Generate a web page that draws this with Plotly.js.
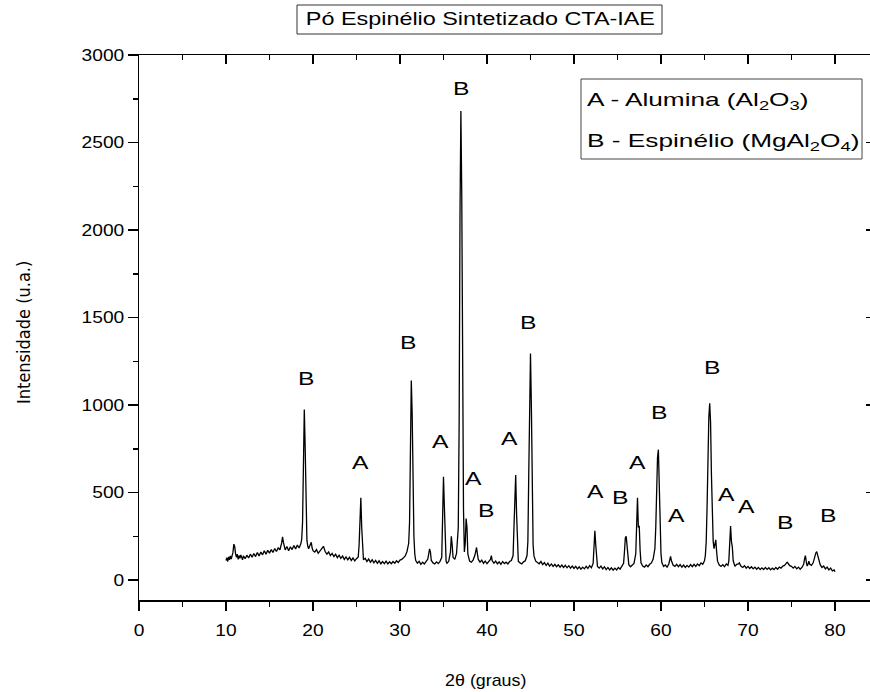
<!DOCTYPE html>
<html>
<head>
<meta charset="utf-8">
<script src="https://cdn.plot.ly/plotly-3.0.1.min.js"></script>
<style>
html,body{margin:0;padding:0;overflow:hidden;background:#fff;}
#plot{width:880px;height:692px;}
</style>
</head>
<body>
<div id="plot"></div>
<script>
// ---- XRD pattern, [2theta, intensity] ----
const seg10to20 = [
 [10.0,112],[10.1,128],[10.2,106],[10.3,132],[10.4,116],[10.5,138],[10.6,120],[10.7,142],[10.8,158],[10.9,205],
 [11.0,192],[11.1,150],[11.2,130],[11.3,148],[11.4,118],[11.5,140],[11.6,124],[11.7,144],[11.8,128],[11.9,116],
 [12.0,138],[12.2,122],[12.4,142],[12.6,126],[12.8,148],[13.0,130],[13.2,152],[13.4,134],[13.6,157],[13.8,138],
 [14.0,160],[14.2,144],[14.4,167],[14.6,148],[14.8,170],[15.0,154],[15.2,174],[15.4,158],[15.6,180],[15.8,163],
 [16.0,184],[16.2,173],[16.4,212],[16.5,247],[16.6,215],[16.7,188],[16.8,172],[17.0,192],[17.2,168],[17.4,190],
 [17.6,174],[17.8,197],[18.0,178],[18.2,200],[18.4,183],[18.6,207],[18.7,232],[18.8,330],[18.9,700],[19.0,975],
 [19.1,760],[19.2,380],[19.3,228],[19.4,193],[19.5,178],[19.6,192],[19.7,202],[19.8,216],[19.9,183],[20.0,168]
];
const seg20to30 = [
 [20.2,160],[20.4,174],[20.6,153],[20.8,167],[21.0,176],[21.2,193],[21.4,163],[21.6,148],[21.8,160],[22.0,140],
 [22.2,152],[22.4,134],[22.6,147],[22.8,128],[23.0,142],[23.2,124],[23.4,137],[23.6,118],[23.8,132],[24.0,116],
 [24.2,130],[24.4,112],[24.6,126],[24.8,110],[25.0,122],[25.2,132],[25.3,200],[25.4,400],[25.5,470],[25.6,300],
 [25.7,150],[25.8,116],[26.0,124],[26.2,106],[26.4,120],[26.6,102],[26.8,116],[27.0,98],[27.2,112],[27.4,96],
 [27.6,110],[27.8,93],[28.0,106],[28.2,94],[28.4,108],[28.6,92],[28.8,104],[29.0,93],[29.2,106],[29.4,96],
 [29.6,110],[29.8,100],[30.0,114]
];
const seg30to40 = [
 [30.2,118],[30.4,127],[30.6,138],[30.8,162],[31.0,210],[31.1,330],[31.2,700],[31.3,1140],[31.4,950],[31.5,500],
 [31.6,250],[31.7,150],[31.8,113],[32.0,96],[32.2,107],[32.4,90],[32.6,102],[32.8,92],[33.0,104],[33.2,120],
 [33.4,178],[33.5,160],[33.6,112],[33.8,98],[34.0,92],[34.2,104],[34.4,94],[34.6,107],[34.8,130],[34.9,350],
 [35.0,590],[35.1,420],[35.2,150],[35.3,108],[35.4,96],[35.6,107],[35.8,160],[35.9,250],[36.0,200],[36.1,130],
 [36.3,118],[36.5,152],[36.7,300],[36.8,900],[36.9,2100],[37.0,2680],[37.1,2200],[37.2,1100],[37.3,400],[37.4,160],
 [37.5,210],[37.6,352],[37.7,300],[37.8,150],[38.0,108],[38.2,102],[38.4,114],[38.6,140],[38.7,180],[38.8,186],
 [38.9,150],[39.0,118],[39.2,102],[39.4,114],[39.6,96],[39.8,108],[40.0,93]
];
const seg40to50 = [
 [40.2,106],[40.4,118],[40.5,140],[40.6,110],[40.8,96],[41.0,108],[41.2,92],[41.4,104],[41.6,90],[41.8,106],
 [42.0,94],[42.2,102],[42.4,92],[42.6,106],[42.8,112],[43.0,140],[43.1,300],[43.2,540],[43.3,600],[43.4,380],
 [43.5,160],[43.6,108],[43.8,98],[44.0,92],[44.2,104],[44.4,110],[44.6,140],[44.7,220],[44.8,600],[44.9,1100],
 [45.0,1295],[45.1,1000],[45.2,450],[45.3,200],[45.4,138],[45.6,108],[45.8,100],[46.0,93],[46.2,106],[46.4,88],
 [46.6,100],[46.8,84],[47.0,97],[47.2,80],[47.4,92],[47.6,78],[47.8,90],[48.0,76],[48.2,87],[48.4,74],
 [48.6,86],[48.8,72],[49.0,84],[49.2,70],[49.4,82],[49.6,68],[49.8,80],[50.0,66]
];
const seg50to60 = [
 [50.2,78],[50.4,64],[50.6,76],[50.8,62],[51.0,74],[51.2,64],[51.4,78],[51.6,66],[51.8,82],[52.0,70],
 [52.2,95],[52.3,220],[52.4,282],[52.5,200],[52.6,110],[52.7,78],[52.9,68],[53.1,80],[53.3,64],[53.5,76],
 [53.7,60],[53.9,72],[54.1,58],[54.3,70],[54.5,56],[54.7,68],[54.9,58],[55.1,72],[55.3,62],[55.5,77],
 [55.7,95],[55.8,160],[55.9,240],[56.0,250],[56.1,180],[56.2,110],[56.3,88],[56.5,76],[56.7,86],[56.9,95],
 [57.1,150],[57.2,330],[57.3,470],[57.4,300],[57.5,310],[57.6,170],[57.7,98],[57.9,80],[58.1,74],[58.3,86],
 [58.5,76],[58.7,90],[58.9,98],[59.1,120],[59.3,180],[59.4,300],[59.5,520],[59.6,700],[59.7,745],[59.8,560],
 [59.9,300],[60.0,150]
];
const seg60to70 = [
 [60.1,100],[60.3,78],[60.5,86],[60.7,74],[60.9,92],[61.0,120],[61.1,135],[61.2,110],[61.4,84],[61.6,78],
 [61.8,90],[62.0,76],[62.2,88],[62.4,74],[62.6,86],[62.8,72],[63.0,84],[63.2,74],[63.4,88],[63.6,76],
 [63.8,90],[64.0,78],[64.2,92],[64.4,82],[64.6,98],[64.8,90],[65.0,110],[65.1,140],[65.2,220],[65.3,420],
 [65.4,700],[65.5,930],[65.6,1010],[65.7,900],[65.8,600],[65.9,350],[66.0,220],[66.1,180],[66.2,200],[66.3,230],
 [66.4,160],[66.5,108],[66.7,86],[66.9,78],[67.1,88],[67.3,76],[67.5,92],[67.7,84],[67.8,110],[67.9,220],
 [68.0,308],[68.1,220],[68.2,190],[68.3,110],[68.5,78],[68.7,90],[68.9,92],[69.0,98],[69.2,78],[69.4,72],
 [69.6,82],[69.8,68],[70.0,78]
];
const seg70to80 = [
 [70.2,66],[70.4,76],[70.6,64],[70.8,74],[71.0,62],[71.2,72],[71.4,60],[71.6,70],[71.8,60],[72.0,72],
 [72.2,61],[72.4,70],[72.6,58],[72.8,68],[73.0,60],[73.2,72],[73.4,62],[73.6,74],[73.8,68],[74.0,80],
 [74.2,84],[74.4,96],[74.5,102],[74.6,96],[74.8,82],[75.0,78],[75.2,68],[75.4,78],[75.6,64],[75.8,74],
 [76.0,62],[76.2,72],[76.4,90],[76.5,120],[76.6,140],[76.7,105],[76.8,80],[76.9,90],[77.0,108],[77.1,90],
 [77.3,84],[77.5,100],[77.7,140],[77.8,155],[77.9,162],[78.0,145],[78.1,120],[78.3,88],[78.5,72],[78.7,80],
 [78.9,64],[79.1,74],[79.3,58],[79.5,68],[79.7,52],[79.9,58],[80.0,47]
];

// Phase labels above peaks: letter, 2theta, intensity of label centre
const peakLetters = ["B","A","B","A","B","A","B","A","B","A","B","A","B","A","B","A","A","B","B"];
const peakLabelX  = [19.3,25.5,31.0,34.6,37.1,38.5,40.0,42.6,44.8,52.5,55.4,57.25,59.8,61.8,65.9,67.55,69.85,74.35,79.25];
const peakLabelY  = [1154,674,1360,790,2811,581,396,806,1474,505,470,670,960,371,1217,490,419,330,366];

const xTickVals = [0,10,20,30,40,50,60,70,80];
const yTickVals = [0,500,1000,1500,2000,2500,3000];

const chartTitle = "Pó Espinélio Sintetizado CTA-IAE";
const xTitle = "2θ (graus)";
const yTitle = "Intensidade (u.a.)";
const legendLines = ["A - Alumina (Al<sub>2</sub>O<sub>3</sub>)", "B - Espinélio (MgAl<sub>2</sub>O<sub>4</sub>)"];

// ---- build ----
const pattern = [].concat(seg10to20, seg20to30, seg30to40, seg40to50, seg50to60, seg60to70, seg70to80);
const tt = pattern.map(p => p[0]);
const inten = pattern.map(p => p[1]);

const XR = [0, 84.6];
const YR = [-114, 3000];
const FONT = "Liberation Sans, Arial, sans-serif";

// plot area in pixels: left 139, right 875, top 55, bottom 600
const L = 139, R = 875, T = 55, B = 600;
const px = x => (x - L) / (R - L);
const py = y => (B - y) / (B - T);

const traces = [
  {x: tt, y: inten, type: "scatter", mode: "lines",
   line: {color: "#000", width: 1.3}, hoverinfo: "skip", showlegend: false},
  {x: [40], y: [1000], xaxis: "x2", yaxis: "y2", type: "scatter", mode: "markers",
   marker: {opacity: 0}, hoverinfo: "skip", showlegend: false}
];

const ann = [];
const annWidth = [];   // horizontal stretch factor of each annotation's text
const annOrigin = [];  // stretch about "left" edge or "center"
peakLetters.forEach((t, i) => {
  ann.push({text: t, x: peakLabelX[i], y: peakLabelY[i], xref: "x", yref: "y",
    xanchor: "center", yanchor: "middle",
    showarrow: false, font: {family: FONT, size: 19, color: "#000"}});
  annWidth.push(1.3); annOrigin.push("center");
});
ann.push({text: chartTitle, xref: "paper", yref: "paper", x: px(480), y: py(19),
  xanchor: "center", yanchor: "middle",
  showarrow: false, font: {family: FONT, size: 18, color: "#000"}});
annWidth.push(1.3); annOrigin.push("center");
ann.push({text: yTitle, xref: "paper", yref: "paper", x: px(24), y: py(333), textangle: -90,
  xanchor: "center", yanchor: "middle",
  showarrow: false, font: {family: "Liberation Sans Narrow, DejaVu Sans Condensed, Arial Narrow, sans-serif", size: 18, color: "#000"}});
annWidth.push(1); annOrigin.push("center");
ann.push({text: xTitle, xref: "paper", yref: "paper", x: px(485), y: py(680),
  xanchor: "center", yanchor: "middle",
  showarrow: false, font: {family: FONT, size: 17, color: "#000"}});
annWidth.push(1.05); annOrigin.push("center");
ann.push({text: legendLines[0], xref: "paper", yref: "paper", x: px(585), y: py(101), xanchor: "left", yanchor: "middle",
  showarrow: false, font: {family: FONT, size: 19, color: "#000"}});
annWidth.push(1.38); annOrigin.push("left");
ann.push({text: legendLines[1], xref: "paper", yref: "paper", x: px(585), y: py(142), xanchor: "left", yanchor: "middle",
  showarrow: false, font: {family: FONT, size: 19, color: "#000"}});
annWidth.push(1.38); annOrigin.push("left");

const shapes = [
  {type: "rect", xref: "paper", yref: "paper", x0: px(581), x1: px(862), y0: py(159), y1: py(79),
   line: {color: "#444", width: 1}},
  {type: "rect", xref: "paper", yref: "paper", x0: px(297), x1: px(662), y0: py(34), y1: py(5),
   line: {color: "#333", width: 1}}
];

const axBase = {
  showgrid: false, zeroline: false, showline: true, linecolor: "#000", linewidth: 1.5,
  tickcolor: "#000", tickwidth: 1.5, tickfont: {family: FONT, size: 16, color: "#000"}
};

const layout = {
  width: 880, height: 692,
  margin: {l: L, r: 880 - R, t: T, b: 692 - B},
  paper_bgcolor: "#fff", plot_bgcolor: "#fff",
  showlegend: false,
  xaxis: Object.assign({}, axBase, {range: XR, tickmode: "array", tickvals: xTickVals,
    ticks: "outside", ticklen: 9, ticklabelstandoff: 6,
    minor: {dtick: 5, tick0: 0, ticks: "outside", ticklen: 5, tickwidth: 1.5, tickcolor: "#000"}}),
  yaxis: Object.assign({}, axBase, {range: YR, tickmode: "array", tickvals: yTickVals,
    ticks: "outside", ticklen: 10,
    minor: {dtick: 250, tick0: 0, ticks: "outside", ticklen: 5, tickwidth: 1.5, tickcolor: "#000"}}),
  xaxis2: Object.assign({}, axBase, {range: XR, overlaying: "x", side: "top", anchor: "y2",
    showticklabels: false, tickmode: "array", tickvals: xTickVals, ticks: "inside", ticklen: 9,
    minor: {dtick: 5, tick0: 0, ticks: "inside", ticklen: 5, tickwidth: 1.5, tickcolor: "#000"}}),
  yaxis2: Object.assign({}, axBase, {range: YR, overlaying: "y", side: "right", anchor: "x2",
    showticklabels: false, tickmode: "array", tickvals: yTickVals, ticks: "inside", ticklen: 9,
    minor: {dtick: 250, tick0: 0, ticks: "inside", ticklen: 5, tickwidth: 1.5, tickcolor: "#000"}}),
  annotations: ann,
  shapes: shapes
};

// stretch a text horizontally about a chosen origin (the reference's lettering is wide)
function widen(el, f, origin) {
  if (!el || f === 1) return;
  const bb = el.getBBox();
  if (!(bb.width > 0)) return;
  const cx = origin === "left" ? bb.x : (origin === "right" ? bb.x + bb.width : bb.x + bb.width / 2);
  const prev = el.getAttribute("transform") || "";
  el.setAttribute("transform", (prev + " translate(" + cx + ",0) scale(" + f + ",1) translate(" + (-cx) + ",0)").trim());
}

Plotly.newPlot("plot", traces, layout, {displayModeBar: false, staticPlot: true}).then(gd => {
  gd.querySelectorAll("g.annotation").forEach(g => {
    const i = +g.getAttribute("data-index");
    widen(g.querySelector("text.annotation-text"), annWidth[i], annOrigin[i]);
  });
  gd.querySelectorAll("g.xtick text").forEach(t => widen(t, 1.2, "center"));
  gd.querySelectorAll("g.ytick text").forEach(t => widen(t, 1.2, "right"));
});
</script>
</body>
</html>
